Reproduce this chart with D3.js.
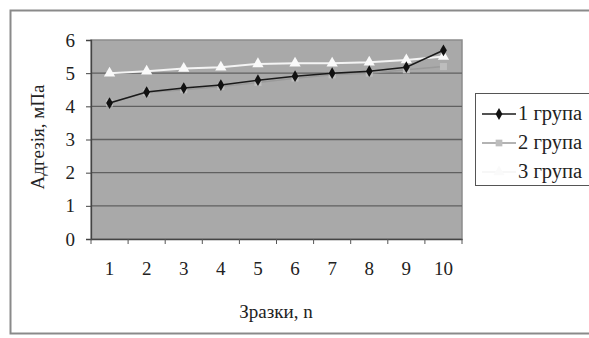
<!DOCTYPE html>
<html><head><meta charset="utf-8">
<script src="https://cdn.jsdelivr.net/npm/d3@7"></script>
<style>body{margin:0;background:#fff}svg{display:block}</style>
</head><body>
<svg id="c" width="589" height="338" font-family="'Liberation Serif','DejaVu Serif',serif"></svg>
<script>
const categories = ["1","2","3","4","5","6","7","8","9","10"];
const group1 = [4.1, 4.43, 4.55, 4.64, 4.79, 4.91, 5.0, 5.06, 5.18, 5.69];
const group2 = [4.1, 4.42, 4.5, 4.6, 4.72, 4.85, 4.95, 5.0, 5.1, 5.2];
const group3 = [5.0, 5.06, 5.14, 5.18, 5.28, 5.3, 5.3, 5.33, 5.4, 5.5];
const yTicks = [0,1,2,3,4,5,6];
const seriesNames = ["1 група","2 група","3 група"];
const yTitle = "Адгезія, мПа";
const xTitle = "Зразки, n";
const FONT = "'Liberation Serif','DejaVu Serif',serif";

const svg = d3.select("#c");
svg.append("rect").attr("x",10.5).attr("y",10.5).attr("width",600).attr("height",323)
  .attr("fill","#fff").attr("stroke","#8a8a8a").attr("stroke-width",2);

const L=91, R=462, T=40, B=239;
const x = d3.scaleBand().domain(categories).range([L,R]);
const y = d3.scaleLinear().domain([0,6]).range([B,T]);

svg.append("rect").attr("x",L).attr("y",T).attr("width",R-L).attr("height",B-T)
  .attr("fill","#a9a9a9").attr("stroke","#8c8c8c").attr("stroke-width",1.5);

svg.append("g").selectAll("line").data(yTicks.filter(d=>d>0&&d<6)).join("line")
  .attr("x1",L).attr("x2",R).attr("y1",d=>y(d)).attr("y2",d=>y(d))
  .attr("stroke","#606060").attr("stroke-width",1.3);

const ya = svg.append("g").attr("transform",`translate(${L},0)`)
  .call(d3.axisLeft(y).tickValues(yTicks).tickSize(5).tickPadding(11).tickFormat(d3.format("d")));
ya.attr("font-family",FONT).attr("font-size",19);
ya.select(".domain").attr("stroke","#444").attr("stroke-width",1.3);
ya.selectAll(".tick line").attr("stroke","#444");
ya.selectAll("text").attr("fill","#222");

const xa = svg.append("g").attr("transform",`translate(0,${B})`)
  .call(d3.axisBottom(x).tickSize(0).tickPadding(23));
xa.attr("font-family",FONT).attr("font-size",19);
xa.select(".domain").attr("stroke","#444").attr("stroke-width",1.3);
xa.selectAll("text").attr("fill","#222");
const bounds = categories.map(c=>x(c)).concat([R]);
xa.append("g").selectAll("line").data(bounds).join("line")
  .attr("x1",d=>d).attr("x2",d=>d).attr("y1",0).attr("y2",5).attr("stroke","#555");

const cx = c => x(c)+x.bandwidth()/2;
const line = d3.line().x((d,i)=>cx(categories[i])).y(d=>y(d));

svg.append("path").datum(group2).attr("d",line).attr("fill","none").attr("stroke","#9a9a9a").attr("stroke-width",1.5);
svg.append("g").selectAll("rect").data(group2).join("rect")
  .attr("x",(d,i)=>cx(categories[i])-3.5).attr("y",d=>y(d)-3.5).attr("width",7).attr("height",7).attr("fill","#bdbdbd");
svg.append("path").datum(group3).attr("d",line).attr("fill","none").attr("stroke","#f4f4f4").attr("stroke-width",2);
const tri = d3.symbol().type(d3.symbolTriangle).size(55);
svg.append("g").selectAll("path").data(group3).join("path")
  .attr("d",tri).attr("transform",(d,i)=>`translate(${cx(categories[i])},${y(d)})`).attr("fill","#fafafa");
svg.append("path").datum(group1).attr("d",line).attr("fill","none").attr("stroke","#1a1a1a").attr("stroke-width",1.5);
const dia = d3.symbol().type(d3.symbolDiamond).size(40);
svg.append("g").selectAll("path").data(group1).join("path")
  .attr("d",dia).attr("transform",(d,i)=>`translate(${cx(categories[i])},${y(d)})`).attr("fill","#111");

svg.append("text").attr("transform","translate(44,137) rotate(-90)").attr("text-anchor","middle")
  .attr("font-family",FONT).attr("font-size",19).attr("fill","#222").text(yTitle);
svg.append("text").attr("x",276).attr("y",318).attr("text-anchor","middle")
  .attr("font-family",FONT).attr("font-size",19).attr("fill","#222").text(xTitle);

svg.append("rect").attr("x",475.5).attr("y",93.5).attr("width",130).attr("height",92)
  .attr("fill","#fff").attr("stroke","#555").attr("stroke-width",1);
const lg = svg.append("g");
const ly = [114,143,172];
const colors = ["#1a1a1a","#9a9a9a","#f4f4f4"];
const sym = [dia, d3.symbol().type(d3.symbolSquare).size(45), tri];
const symFill = ["#111","#bdbdbd","#fafafa"];
seriesNames.forEach((n,i)=>{
  lg.append("line").attr("x1",482).attr("x2",516).attr("y1",ly[i]).attr("y2",ly[i]).attr("stroke",colors[i]).attr("stroke-width",1.5);
  lg.append("path").attr("d",sym[i]).attr("transform",`translate(499,${ly[i]})`).attr("fill",symFill[i]);
  lg.append("text").attr("x",518).attr("y",ly[i]+6).attr("font-family",FONT).attr("font-size",20.5).attr("fill","#222").text(n);
});
</script>
</body></html>
